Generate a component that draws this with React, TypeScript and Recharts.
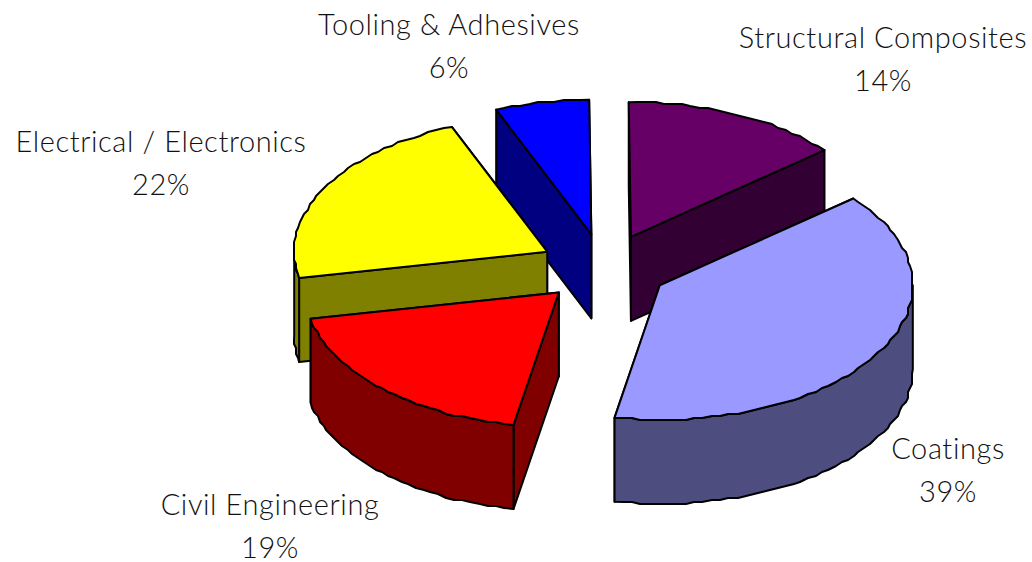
import { PieChart, Pie } from 'recharts';

const categories = ['Structural Composites', 'Tooling & Adhesives', 'Electrical / Electronics', 'Civil Engineering', 'Coatings'];
const shares = [14, 6, 22, 19, 39];
const topColors = ['#660066', '#0000FF', '#FFFF00', '#FF0000', '#9999FF'];
const sideColors = ['#330033', '#000080', '#808000', '#800000', '#4D4D80'];

const tableData = categories.map((name, i) => ({
  name,
  value: shares[i],
  fill: topColors[i],
  side: sideColors[i],
}));

// hand placed label centres, same as in the original
const labelCentres: Record<string, [number, number]> = {
  'Structural Composites': [883, 38],
  'Tooling & Adhesives': [449, 25],
  'Electrical / Electronics': [161, 142],
  'Civil Engineering': [270, 505],
  Coatings: [948, 449],
};

const TILT = 0.532;
const DEPTH = 84;
const EXPLODE = 0.255;
const RAD = Math.PI / 180;

function project(cx: number, cy: number, r: number, angle: number) {
  return {
    x: cx + r * Math.cos(angle * RAD),
    y: cy - r * Math.sin(angle * RAD) * TILT,
  };
}

// the source chart has slightly stepped arcs, so snap the samples to a coarse grid
function arcPoints(cx: number, cy: number, r: number, from: number, to: number) {
  const pts = [];
  const steps = Math.max(1, Math.round((to - from) / 2));
  for (let i = 0; i <= steps; i++) {
    const p = project(cx, cy, r, from + ((to - from) * i) / steps);
    if (i === 0 || i === steps) pts.push(p);
    else pts.push({ x: Math.round(p.x / 2) * 2, y: Math.round(p.y / 2) * 2 });
  }
  return pts;
}

const toPoints = (pts: { x: number; y: number }[]) => pts.map((p) => `${p.x},${p.y}`).join(' ');
const drop = (pts: { x: number; y: number }[]) => pts.map((p) => ({ x: p.x, y: p.y + DEPTH }));

function Slice3D(props: any) {
  const { cx, cy, outerRadius, startAngle, endAngle, fill, payload } = props;
  const side = payload?.side ?? props.side;
  const mid = (startAngle + endAngle) / 2;
  const apex = project(cx, cy, outerRadius * EXPLODE, mid);
  const arc = arcPoints(apex.x, apex.y, outerRadius, startAngle, endAngle);
  const first = arc[0];
  const last = arc[arc.length - 1];
  const wallFrom = Math.max(startAngle, 180);
  const wallTo = Math.min(endAngle, 360);
  const wall = wallTo > wallFrom ? arcPoints(apex.x, apex.y, outerRadius, wallFrom, wallTo) : null;
  const edge = { stroke: '#000', strokeWidth: 2, strokeLinejoin: 'round' as const };

  return (
    <g>
      <polygon points={toPoints([apex, first, ...drop([first, apex])])} fill={side} {...edge} />
      <polygon points={toPoints([apex, last, ...drop([last, apex])])} fill={side} {...edge} />
      {wall && <polygon points={toPoints([...wall, ...drop(wall).reverse()])} fill={side} {...edge} />}
      <polygon points={toPoints([apex, ...arc])} fill={fill} {...edge} />
    </g>
  );
}

function SliceLabel(props: any) {
  const { name, value } = props;
  const [x, y] = labelCentres[name];
  const textStyle = { fontFamily: 'Lato, sans-serif', fontWeight: 300, fontSize: 29, letterSpacing: 0.6, fill: '#111' };
  return (
    <g>
      <text x={x} y={y + 10} textAnchor="middle" style={textStyle}>
        {name}
      </text>
      <text x={x} y={y + 53} textAnchor="middle" style={textStyle}>
        {`${value}%`}
      </text>
    </g>
  );
}

export default function App() {
  return (
    <div style={{ position: 'absolute', left: 0, top: 0, width: 1032, height: 562 }}>
      <PieChart width={1032} height={562} margin={{ top: 0, right: 0, bottom: 0, left: 0 }}>
        <Pie
          data={tableData}
          dataKey="value"
          nameKey="name"
          cx={604}
          cy={268}
          innerRadius={0}
          outerRadius={253}
          startAngle={40.1}
          endAngle={400.1}
          stroke="none"
          shape={Slice3D}
          label={SliceLabel}
          labelLine={false}
          isAnimationActive={false}
        />
      </PieChart>
    </div>
  );
}
